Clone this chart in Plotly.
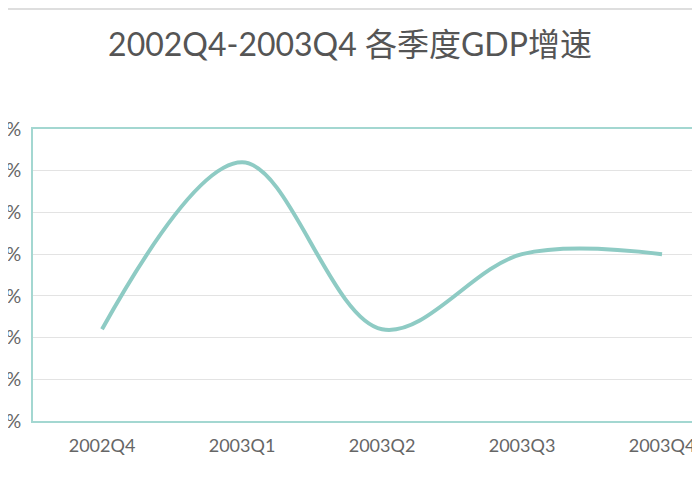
import plotly.graph_objects as go

quarters = ["2002Q4", "2003Q1", "2003Q2", "2003Q3", "2003Q4"]
growth = [9.1, 11.1, 9.1, 10.0, 10.0]
y_ticks = [8.0, 8.5, 9.0, 9.5, 10.0, 10.5, 11.0, 11.5]
y_tick_labels = ["%.2f%%" % v for v in y_ticks]
title_text = "2002Q4-2003Q4 各季度GDP增速"

font_stack = "Lato, Noto Sans CJK SC, sans-serif"

W, H = 700, 500
ML, MT, MB = 25, 121, 87
plot_h = H - MT - MB

fig = go.Figure()
fig.add_trace(go.Scatter(
    x=list(range(len(quarters))), y=growth, mode="lines",
    line=dict(color="#8ecbc4", width=4, shape="spline", smoothing=1.0),
    hoverinfo="x+y", showlegend=False,
))

fig.update_layout(
    width=W, height=H,
    paper_bgcolor="white", plot_bgcolor="white",
    margin=dict(l=ML, r=0, t=MT, b=MB),
    title=dict(text=title_text, x=342 / W, xanchor="center", y=1 - 37 / H, yanchor="middle",
               font=dict(family=font_stack, size=32, color="#555555")),
    font=dict(family=font_stack, color="#666666"),
    xaxis=dict(
        range=[-0.493, -0.493 + (W - ML) / 140], tickmode="array", automargin=False,
        tickvals=list(range(len(quarters))), ticktext=quarters,
        showgrid=False, zeroline=False,
        showline=True, linecolor="#a3d7d1", linewidth=2, mirror=True,
        ticks="", tickfont=dict(size=18, color="#666666"), ticklabelstandoff=7,
    ),
    yaxis=dict(
        range=[8.0, 11.5], tickmode="array", tickvals=y_ticks, ticktext=y_tick_labels,
        automargin=False,
        showgrid=True, gridcolor="#e3e3e3", gridwidth=1, zeroline=False,
        showline=True, linecolor="#a3d7d1", linewidth=2, mirror=False,
        ticks="", tickfont=dict(size=19, color="#666666"), ticklabelstandoff=6,
    ),
    shapes=[dict(type="line", xref="paper", yref="paper", x0=-0.1, x1=1.1,
                 y0=(H - MB - 1) / plot_h, y1=(H - MB - 1) / plot_h,
                 line=dict(color="#dedede", width=2))],
)

fig.write_html("out.html")
